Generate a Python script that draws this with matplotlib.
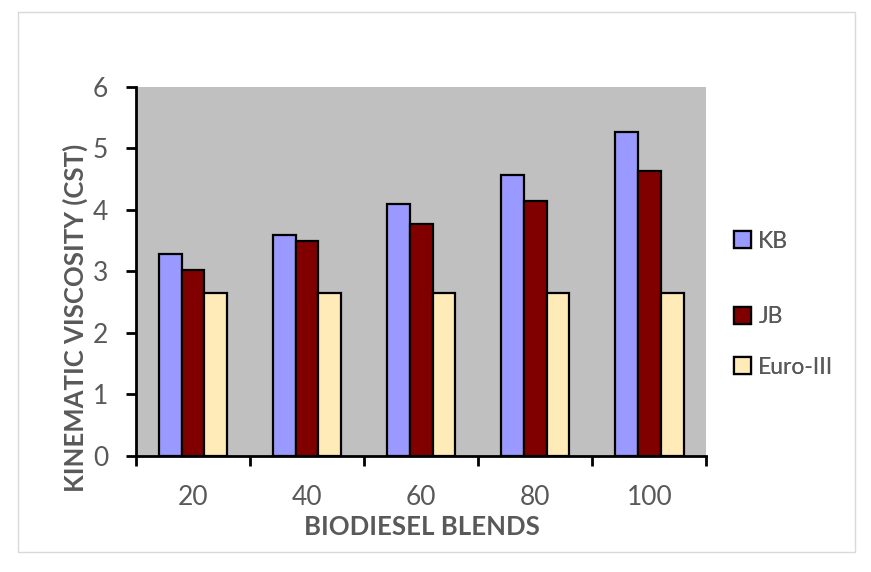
import numpy as np
import matplotlib.pyplot as plt
from matplotlib.patches import Rectangle

blends = ['20', '40', '60', '80', '100']
kb = [3.28, 3.59, 4.09, 4.56, 5.27]
jb = [3.03, 3.49, 3.77, 4.15, 4.63]
euro = [2.65, 2.65, 2.65, 2.65, 2.65]
series_names = ['KB', 'JB', 'Euro-III']
series_colors = ['#9999FF', '#800000', '#FFEBB8']

plt.rcParams['font.family'] = ['Lato', 'DejaVu Sans']
grey = '#595959'

fig = plt.figure(figsize=(8.71, 5.72), dpi=100)
ax = fig.add_axes([0.156, 0.203, 0.655, 0.645])
ax.set_facecolor('#C0C0C0')

x = np.arange(1, len(blends) + 1)
w = 0.2
bars = []
for i, (vals, col) in enumerate(zip([kb, jb, euro], series_colors)):
    b = ax.bar(x + (i - 1) * w, vals, w, color=col, edgecolor='black',
               linewidth=1.6, label=series_names[i], zorder=3)
    bars.append(b)

ax.set_xlim(0.5, 5.5)
ax.set_ylim(0, 6)
ax.set_yticks(range(7))
ax.set_xticks(x)
ax.set_xticklabels(blends)
ax.set_xticks(np.arange(0.5, 6, 1), minor=True)
ax.tick_params(axis='x', which='major', length=0, pad=21, labelsize=19, labelcolor=grey)
ax.tick_params(axis='x', which='minor', direction='out', length=7, width=2, color='black')
ax.tick_params(axis='y', direction='out', length=7, width=2, labelsize=19,
               labelcolor=grey, pad=13)
for s in ['top', 'right']:
    ax.spines[s].set_visible(False)
for s in ['left', 'bottom']:
    ax.spines[s].set_linewidth(2)

ax.set_xlabel('BIODIESEL BLENDS', fontsize=18.5, fontweight='bold', color=grey)
ax.set_ylabel('KINEMATIC VISCOSITY (CST)', fontsize=18.5, fontweight='bold', color=grey)
ax.xaxis.set_label_coords(0.501, -0.192)
ax.yaxis.set_label_coords(-0.107, 0.374)
ax.xaxis.label.set_verticalalignment('center')
ax.yaxis.label.set_verticalalignment('center')

# legend entries placed individually (uneven spacing as in the original)
leg_y = [0.578, 0.446, 0.358]
for b, name, yy in zip(bars, series_names, leg_y):
    lg = fig.legend([b], [name], loc='center left', bbox_to_anchor=(0.843, yy),
                    frameon=False, fontsize=16.5, handlelength=0.75, handleheight=0.75,
                    handletextpad=0.3, labelcolor=grey, borderpad=0, borderaxespad=0)
    fig.add_artist(lg)

fig.patches.append(Rectangle((0.021, 0.035), 0.961, 0.944, transform=fig.transFigure,
                             fill=False, edgecolor='#D9D9D9', linewidth=1))

fig.savefig('out.png', dpi=100)
